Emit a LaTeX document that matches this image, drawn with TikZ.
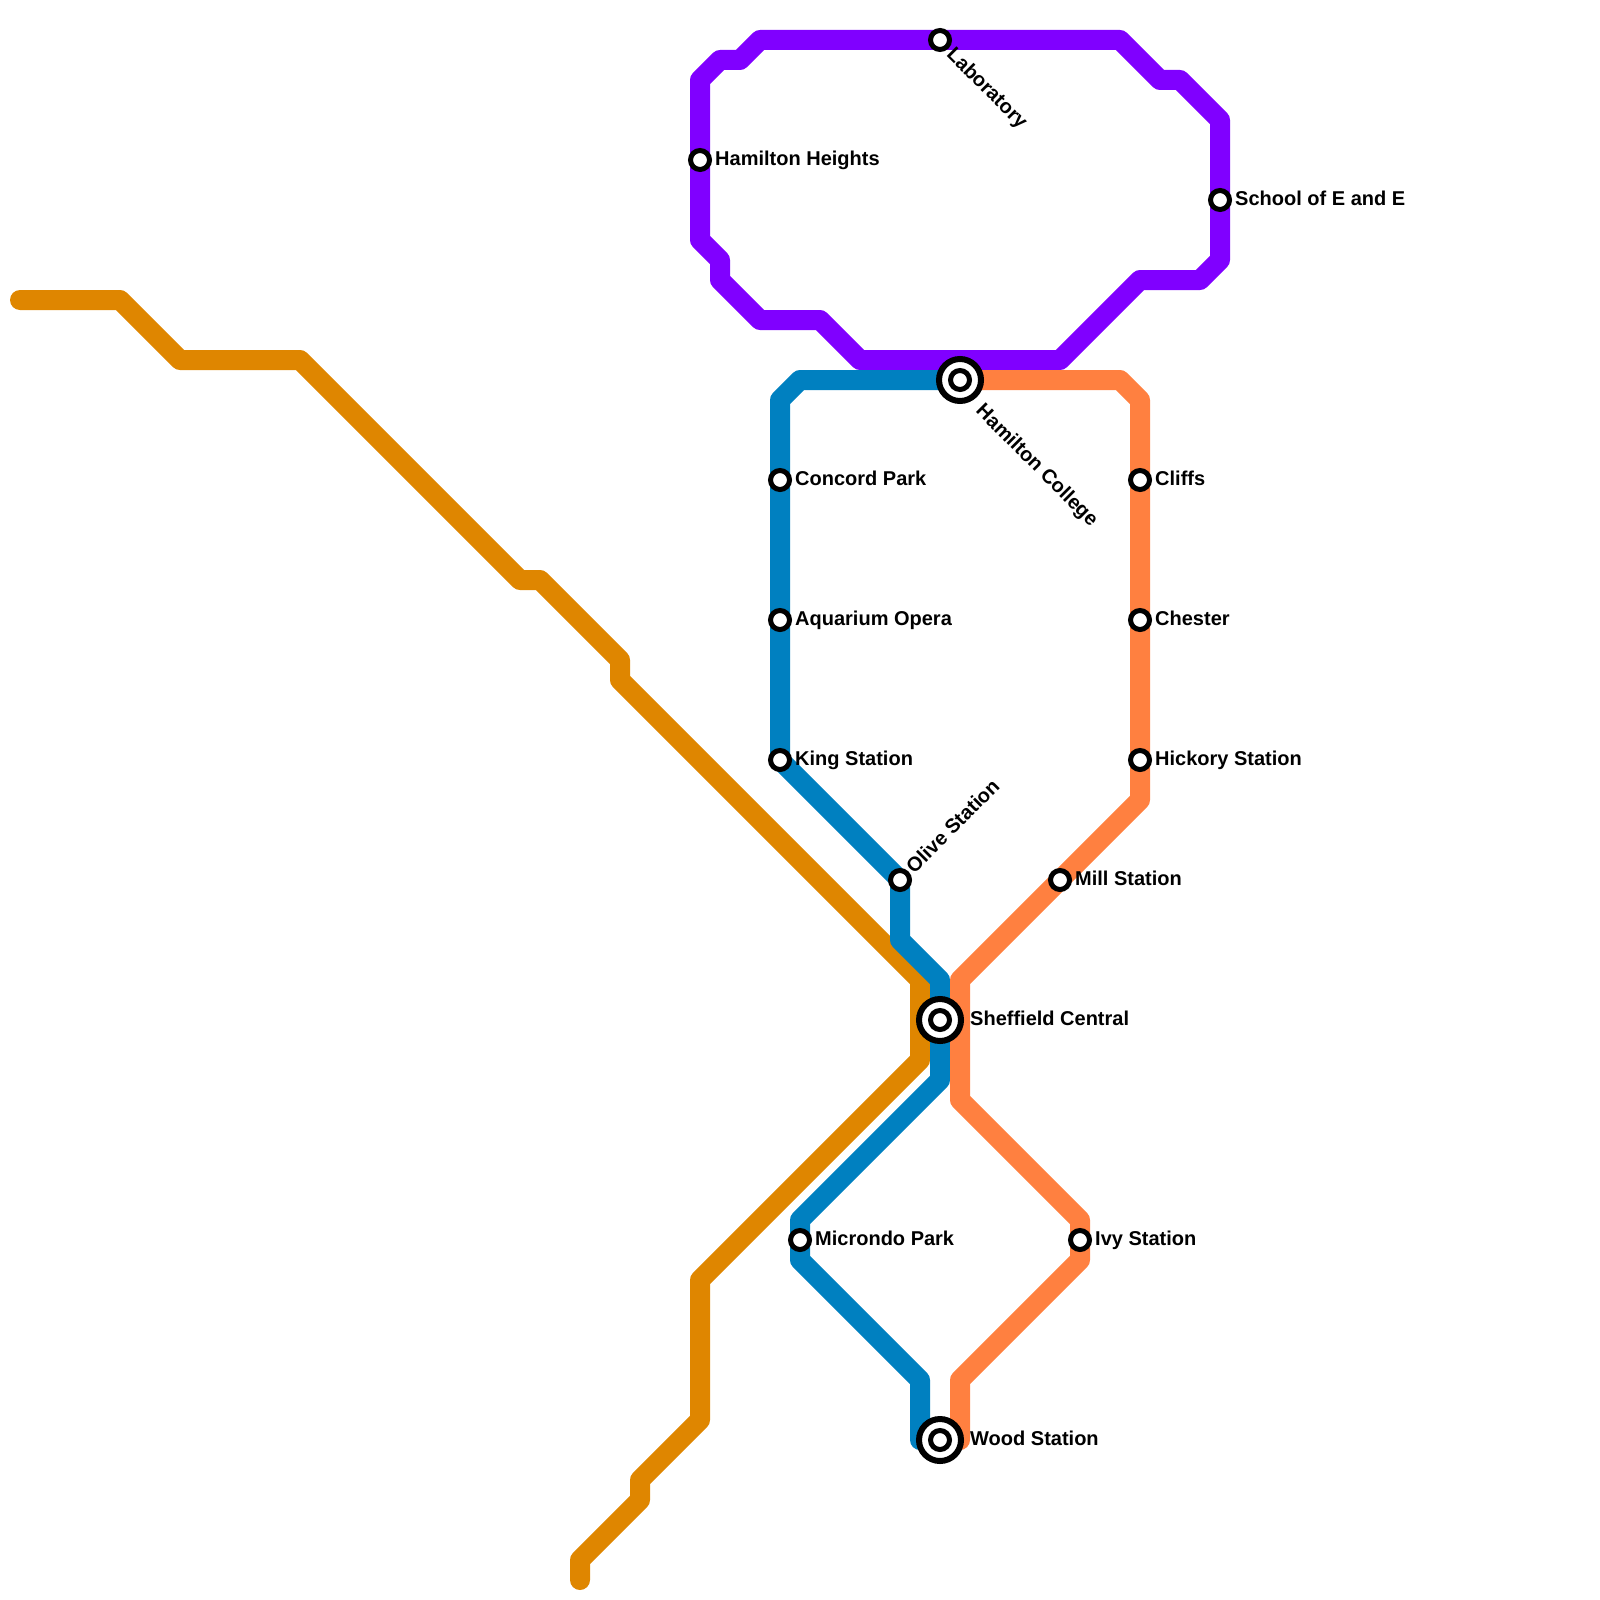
\documentclass[tikz,border=0pt]{standalone}
\usepackage{fontspec}
\setmainfont{Liberation Sans}
\usetikzlibrary{positioning}
\definecolor{linepurple}{HTML}{8000FF}
\definecolor{lineblue}{HTML}{0080C0}
\definecolor{linecoral}{HTML}{FF8040}
\definecolor{lineamber}{HTML}{DF8600}
\tikzset{
  metroline/.style={line width=20pt, line cap=round, line join=round},
  stop/.style={circle, draw=black, fill=white, line width=5pt, minimum size=19pt, inner sep=0pt},
  hubouter/.style={circle, draw=black, fill=white, line width=6pt, minimum size=42pt, inner sep=0pt},
  stoplabel/.style={inner sep=0pt, text height=14pt, text depth=4pt, font=\fontsize{20}{24}\selectfont\bfseries},
}
\begin{document}
\begin{tikzpicture}[x=1pt, y=-1pt]
  \useasboundingbox (0,0) rectangle (1600,1600);

  \foreach \n/\x/\y in {%
      hh/700/160, lab/940/40, see/1220/200, hc/960/380, cp/780/480, ao/780/620, ks/780/760,
      os/900/880, cl/1140/480, ch/1140/620, hk/1140/760, ms/1060/880, sc/940/1020,
      mp/800/1240, iv/1080/1240, ws/940/1440} {
    \coordinate (\n) at (\x,\y);
  }

  % lines first, stations go on top
  \draw[metroline, lineamber] (20,300) -- (120,300) -- (180,360) -- (300,360) -- (520,580) -- (540,580)
    -- (620,660) -- (620,680) -- (920,980) -- (920,1060) -- (700,1280) -- (700,1420) -- (640,1480)
    -- (640,1500) -- (580,1560) -- (580,1580);
  \draw[metroline, linepurple] (700,80) -- (720,60) -- (740,60) -- (760,40) -- (lab) -- (1120,40) -- (1160,80)
    -- (1180,80) -- (1220,120) -- (see) -- (1220,260) -- (1200,280) -- (1140,280) -- (1060,360)
    -- (860,360) -- (820,320) -- (760,320) -- (720,280) -- (720,260) -- (700,240) -- (hh) -- cycle;
  \draw[metroline, lineblue] (hc) -- (800,380) -- (780,400) -- (cp) -- (ao) -- (ks) -- (os) -- (900,940)
    -- (940,980) -- (sc) -- (940,1080) -- (800,1220) -- (mp) -- (800,1260) -- (920,1380) -- (920,1440) -- (ws);
  \draw[metroline, linecoral] (hc) -- (1120,380) -- (1140,400) -- (cl) -- (ch) -- (hk) -- (1140,800) -- (ms)
    -- (960,980) -- (960,1100) -- (1080,1220) -- (iv) -- (1080,1260) -- (960,1380) -- (960,1440) -- (ws);

  \foreach \n in {hh, lab, see, cp, ao, ks, os, cl, ch, hk, ms, mp, iv} {
    \node[stop] (\n stop) at (\n) {};
  }
  \foreach \n in {hc, sc, ws} {
    \node[hubouter] (\n hub) at (\n) {};
    \node[stop] (\n stop) at (\n) {};
  }

  \foreach \n/\txt in {hh/Hamilton Heights, see/School of E and E, cp/Concord Park, ao/Aquarium Opera,
      ks/King Station, cl/Cliffs, ch/Chester, hk/Hickory Station, ms/Mill Station, mp/Microndo Park, iv/Ivy Station} {
    \node[stoplabel, right=15pt of \n] (\n label) {\txt};
  }
  \node[stoplabel, right=30pt of sc] (sclabel) {Sheffield Central};
  \node[stoplabel, right=30pt of ws] (wslabel) {Wood Station};
  \node[stoplabel, rotate=-45, anchor=west, shift={(15pt,-2pt)}] (lablabel) at (lab) {Laboratory};
  \node[stoplabel, rotate=-45, anchor=west, shift={(33pt,-7pt)}] (hclabel) at (hc) {Hamilton College};
  \node[stoplabel, rotate=45, anchor=west, shift={(14pt,-1pt)}] (oslabel) at (os) {Olive Station};
\end{tikzpicture}
\end{document}
